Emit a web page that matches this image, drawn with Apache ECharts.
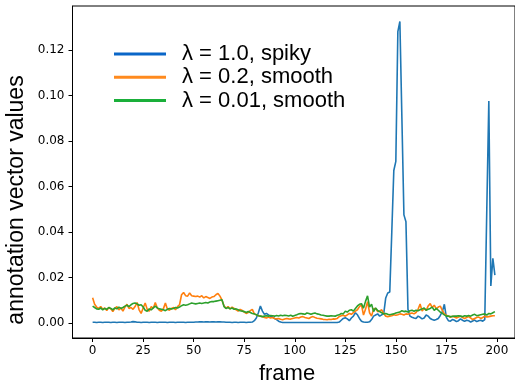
<!DOCTYPE html>
<html>
<head>
<meta charset="utf-8">
<script src="https://cdn.jsdelivr.net/npm/echarts@6/dist/echarts.min.js"></script>
<style>
  html, body { margin: 0; padding: 0; background: #fff; }
  #chart { width: 515px; height: 385px; }
</style>
</head>
<body>
<div id="chart"></div>
<script>
const seriesNames = ['λ = 1.0, spiky', 'λ = 0.2, smooth', 'λ = 0.01, smooth'];
const xTicks = [0, 25, 50, 75, 100, 125, 150, 175, 200];
const yTicks = [0, 0.02, 0.04, 0.06, 0.08, 0.1, 0.12];

// one value per frame, frame = index (0..199)
const spiky = [
  0.0003, 0.0003, 0.0002, 0.0003, 0.0003, 0.0002, 0.0003, 0.0003, 0.0003, 0.0002,
  0.0003, 0.0003, 0.0002, 0.0003, 0.0003, 0.0003, 0.0002, 0.0003, 0.0003, 0.0004,
  0.0006, 0.0005, 0.0003, 0.0003, 0.0002, 0.0003, 0.0003, 0.0003, 0.0002, 0.0003,
  0.0003, 0.0003, 0.0002, 0.0003, 0.0003, 0.0003, 0.0003, 0.0002, 0.0003, 0.0003,
  0.0003, 0.0002, 0.0003, 0.0003, 0.0003, 0.0003, 0.0002, 0.0003, 0.0003, 0.0003,
  0.0003, 0.0004, 0.0004, 0.0005, 0.0005, 0.0004, 0.0005, 0.0005, 0.0004, 0.0005,
  0.0005, 0.0004, 0.0005, 0.0005, 0.0004, 0.0004, 0.0003, 0.0003, 0.0003, 0.0002,
  0.0003, 0.0003, 0.0002, 0.0003, 0.0003, 0.0003, 0.0002, 0.0003, 0.0003, 0.0004,
  0.0010, 0.0022, 0.0045, 0.0075, 0.0052, 0.0038, 0.0042, 0.0036, 0.0030, 0.0026,
  0.0020, 0.0015, 0.0008, 0.0004, 0.0002, 0.0002, 0.0002, 0.0002, 0.0002, 0.0002,
  0.0002, 0.0002, 0.0002, 0.0002, 0.0002, 0.0002, 0.0002, 0.0002, 0.0002, 0.0002,
  0.0002, 0.0002, 0.0002, 0.0002, 0.0002, 0.0002, 0.0002, 0.0002, 0.0002, 0.0002,
  0.0002, 0.0002, 0.0004, 0.0012, 0.0020, 0.0023, 0.0018, 0.0010, 0.0022, 0.0030,
  0.0045, 0.0036, 0.0020, 0.0008, 0.0004, 0.0003, 0.0003, 0.0005, 0.0015, 0.0030,
  0.0035, 0.0040, 0.0030, 0.0036, 0.0040, 0.0110, 0.0132, 0.0136, 0.0400, 0.0670,
  0.0710, 0.1280, 0.1325, 0.0900, 0.0475, 0.0445, 0.0060, 0.0030, 0.0025, 0.0022,
  0.0020, 0.0030, 0.0025, 0.0018, 0.0022, 0.0035, 0.0030, 0.0020, 0.0015, 0.0012,
  0.0015, 0.0020, 0.0033, 0.0050, 0.0082, 0.0025, 0.0010, 0.0008, 0.0015, 0.0012,
  0.0006, 0.0010, 0.0018, 0.0012, 0.0007, 0.0012, 0.0010, 0.0004, 0.0009, 0.0013,
  0.0006, 0.0010, 0.0012, 0.0008, 0.0015, 0.0500, 0.0975, 0.0163, 0.0284, 0.0210
];
const smoothMid = [
  0.0111, 0.0082, 0.0070, 0.0064, 0.0072, 0.0060, 0.0066, 0.0055, 0.0068, 0.0062,
  0.0050, 0.0064, 0.0072, 0.0058, 0.0066, 0.0052, 0.0070, 0.0082, 0.0064, 0.0068,
  0.0060, 0.0072, 0.0090, 0.0058, 0.0042, 0.0066, 0.0088, 0.0060, 0.0052, 0.0072,
  0.0064, 0.0090, 0.0066, 0.0056, 0.0052, 0.0062, 0.0088, 0.0060, 0.0056, 0.0064,
  0.0068, 0.0058, 0.0072, 0.0080, 0.0124, 0.0134, 0.0120, 0.0118, 0.0132, 0.0120,
  0.0118, 0.0116, 0.0118, 0.0114, 0.0120, 0.0110, 0.0116, 0.0112, 0.0108, 0.0114,
  0.0116, 0.0124, 0.0130, 0.0118, 0.0100, 0.0076, 0.0064, 0.0072, 0.0062, 0.0070,
  0.0064, 0.0058, 0.0052, 0.0060, 0.0055, 0.0048, 0.0042, 0.0046, 0.0054, 0.0060,
  0.0040, 0.0036, 0.0032, 0.0030, 0.0028, 0.0024, 0.0022, 0.0026, 0.0022, 0.0024,
  0.0020, 0.0018, 0.0020, 0.0016, 0.0014, 0.0017, 0.0020, 0.0018, 0.0017, 0.0020,
  0.0022, 0.0024, 0.0022, 0.0026, 0.0028, 0.0024, 0.0022, 0.0020, 0.0025, 0.0028,
  0.0024, 0.0021, 0.0020, 0.0018, 0.0016, 0.0015, 0.0014, 0.0016, 0.0015, 0.0018,
  0.0017, 0.0020, 0.0028, 0.0032, 0.0034, 0.0030, 0.0036, 0.0042, 0.0038, 0.0045,
  0.0052, 0.0058, 0.0072, 0.0080, 0.0035, 0.0060, 0.0094, 0.0045, 0.0030, 0.0062,
  0.0064, 0.0050, 0.0052, 0.0058, 0.0042, 0.0030, 0.0028, 0.0030, 0.0032, 0.0036,
  0.0034, 0.0036, 0.0040, 0.0038, 0.0035, 0.0040, 0.0038, 0.0042, 0.0044, 0.0040,
  0.0046, 0.0060, 0.0083, 0.0052, 0.0064, 0.0055, 0.0075, 0.0085, 0.0068, 0.0078,
  0.0062, 0.0070, 0.0074, 0.0055, 0.0040, 0.0034, 0.0030, 0.0025, 0.0030, 0.0026,
  0.0022, 0.0026, 0.0030, 0.0024, 0.0020, 0.0024, 0.0028, 0.0022, 0.0015, 0.0020,
  0.0024, 0.0026, 0.0020, 0.0024, 0.0030, 0.0026, 0.0028, 0.0030, 0.0032, 0.0032
];
const smoothLow = [
  0.0074, 0.0068, 0.0062, 0.0060, 0.0066, 0.0058, 0.0064, 0.0060, 0.0068, 0.0064,
  0.0058, 0.0066, 0.0062, 0.0070, 0.0064, 0.0068, 0.0074, 0.0078, 0.0072, 0.0080,
  0.0086, 0.0088, 0.0084, 0.0078, 0.0080, 0.0070, 0.0056, 0.0052, 0.0062, 0.0058,
  0.0066, 0.0074, 0.0066, 0.0062, 0.0060, 0.0058, 0.0054, 0.0060, 0.0064, 0.0062,
  0.0064, 0.0068, 0.0066, 0.0070, 0.0076, 0.0080, 0.0078, 0.0080, 0.0084, 0.0088,
  0.0086, 0.0084, 0.0086, 0.0088, 0.0086, 0.0088, 0.0090, 0.0088, 0.0092, 0.0094,
  0.0094, 0.0096, 0.0098, 0.0100, 0.0102, 0.0072, 0.0064, 0.0068, 0.0062, 0.0066,
  0.0060, 0.0062, 0.0058, 0.0054, 0.0052, 0.0050, 0.0046, 0.0050, 0.0046, 0.0042,
  0.0040, 0.0036, 0.0032, 0.0030, 0.0028, 0.0030, 0.0032, 0.0030, 0.0033, 0.0032,
  0.0030, 0.0033, 0.0031, 0.0034, 0.0032, 0.0034, 0.0033, 0.0031, 0.0034, 0.0030,
  0.0033, 0.0036, 0.0040, 0.0042, 0.0040, 0.0038, 0.0044, 0.0042, 0.0038, 0.0042,
  0.0044, 0.0040, 0.0038, 0.0035, 0.0034, 0.0032, 0.0030, 0.0030, 0.0032, 0.0031,
  0.0030, 0.0034, 0.0036, 0.0042, 0.0040, 0.0052, 0.0048, 0.0056, 0.0058, 0.0052,
  0.0064, 0.0075, 0.0082, 0.0085, 0.0065, 0.0095, 0.0119, 0.0070, 0.0082, 0.0050,
  0.0066, 0.0055, 0.0050, 0.0045, 0.0040, 0.0042, 0.0038, 0.0036, 0.0038, 0.0040,
  0.0044, 0.0046, 0.0048, 0.0054, 0.0050, 0.0052, 0.0048, 0.0054, 0.0056, 0.0052,
  0.0056, 0.0054, 0.0058, 0.0062, 0.0066, 0.0056, 0.0060, 0.0064, 0.0070, 0.0055,
  0.0064, 0.0056, 0.0048, 0.0042, 0.0036, 0.0030, 0.0030, 0.0028, 0.0029, 0.0031,
  0.0030, 0.0032, 0.0030, 0.0028, 0.0032, 0.0030, 0.0033, 0.0030, 0.0035, 0.0038,
  0.0032, 0.0034, 0.0036, 0.0038, 0.0040, 0.0035, 0.0042, 0.0040, 0.0045, 0.0050
];

const lineColors = ['#1f77b4', '#ff7f0e', '#2ca02c'];
const legendColors = ['#0a66c8', '#ff8a1e', '#1aaf3a'];

const tickFont = { fontFamily: 'DejaVu Sans', fontSize: 12, color: '#000' };
const titleFont = 'Liberation Sans, Arial, sans-serif';

const chart = echarts.init(document.getElementById('chart'), null, { renderer: 'canvas' });

const allSeries = [spiky, smoothMid, smoothLow].map((values, i) => ({
  name: seriesNames[i],
  type: 'line',
  data: values.map((v, frame) => [frame, v]),
  showSymbol: false,
  symbol: 'none',
  color: lineColors[i],
  lineStyle: { width: 1.6, color: lineColors[i] },
  animation: false
}));

chart.setOption({
  animation: false,
  grid: {
    left: 72.5, top: 6, width: 444.5, height: 332,
    show: true, borderColor: '#000', borderWidth: 1
  },
  xAxis: {
    type: 'value',
    min: -9.95, max: 208.95,
    axisLine: { onZero: false, lineStyle: { color: '#000', width: 1 } },
    axisTick: { length: 4, lineStyle: { color: '#000' }, customValues: xTicks },
    axisLabel: { ...tickFont, margin: 7, customValues: xTicks },
    splitLine: { show: false }
  },
  yAxis: {
    type: 'value',
    min: -0.0066, max: 0.1393,
    axisLine: { show: true, onZero: false, lineStyle: { color: '#000', width: 1 } },
    axisTick: { show: true, length: 4, lineStyle: { color: '#000' }, customValues: yTicks },
    axisLabel: {
      ...tickFont, margin: 8, customValues: yTicks,
      formatter: (v) => v.toFixed(2)
    },
    splitLine: { show: false }
  },
  legend: {
    orient: 'vertical',
    left: 109, top: 38,
    itemWidth: 52, itemHeight: 3,
    itemGap: 1.3,
    icon: 'rect',
    data: seriesNames.map((n, i) => ({ name: n, itemStyle: { color: legendColors[i] } })),
    textStyle: {
      fontFamily: titleFont, fontSize: 22, lineHeight: 22, color: '#000',
      padding: [0, 0, 0, 11]
    }
  },
  graphic: [
    {
      type: 'text', x: 17, y: 200, rotation: Math.PI / 2,
      style: {
        text: 'annotation vector values', font: '23px ' + titleFont,
        fill: '#000', align: 'center', verticalAlign: 'middle'
      }
    },
    {
      type: 'text', x: 287, y: 374,
      style: {
        text: 'frame', font: '22px ' + titleFont,
        fill: '#000', align: 'center', verticalAlign: 'middle'
      }
    }
  ],
  series: allSeries
});
</script>
</body>
</html>
